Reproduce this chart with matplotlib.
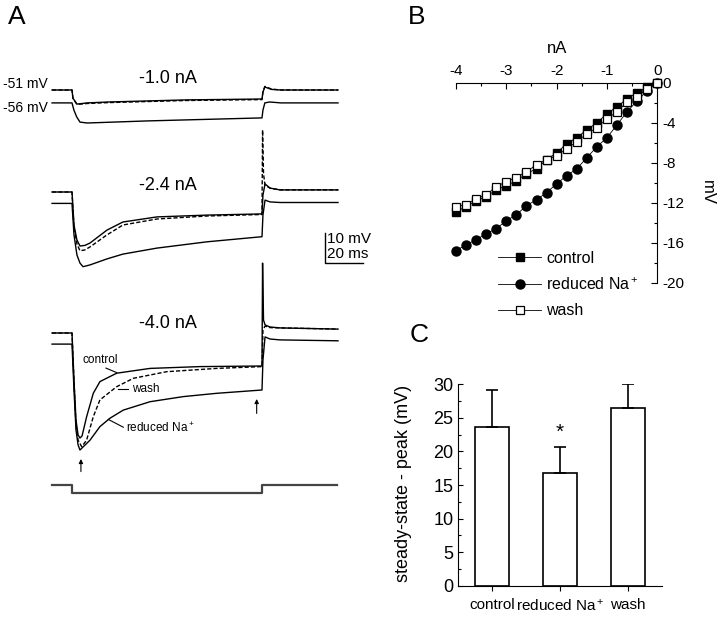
import matplotlib.pyplot as plt
from matplotlib.ticker import MultipleLocator

plt.rcParams['font.family'] = ['Liberation Sans', 'DejaVu Sans']
plt.rcParams['mathtext.fontset'] = 'custom'
plt.rcParams['mathtext.rm'] = 'Liberation Sans'
plt.rcParams['mathtext.it'] = 'Liberation Sans:italic'

# ---- A: voltage responses (time in ms, membrane potential in mV) ----
# -1.0 nA
g1_t = [-10.5, 0, 0.5, 2.6, 8, 19, 60, 100, 100.5, 101.5, 105, 110, 140]
g1_ctrl = [-51, -51, -53.7, -55.7, -55.3, -55.0, -54.3, -54.0, -51.7, -50.0, -50.8, -51, -51]
g1_wash = [-51, -51, -53.8, -55.8, -55.5, -55.2, -54.5, -54.2, -51.5, -49.8, -50.7, -51, -51]
g1_red_t = [-10.5, 0, 1, 2.5, 4.2, 8, 40, 100, 100.5, 101.5, 104, 110, 140]
g1_red = [-55.3, -55.3, -57.7, -60.0, -61.7, -62.0, -61.3, -60.3, -57.7, -55.3, -55.0, -55.3, -55.3]

# -2.4 nA
g2_ctrl_t = [-10.5, 0, 1.05, 2.6, 4.2, 6.8, 9.5, 18.4, 26.8, 44.7, 71.1, 100, 100.5, 101.6, 104.2, 109.5, 140]
g2_ctrl = [-51, -51, -62, -67, -69, -68.8, -68, -63.7, -61, -59.3, -58.7, -58.3, -52, -48.3, -49.7, -50.3, -50.3]
g2_wash_t = [-10.5, 0, 1.05, 2.6, 4.2, 6.8, 9.5, 18.4, 26.8, 44.7, 71.1, 100, 100.3, 100.8, 101.6, 104.2, 109.5, 140]
g2_wash = [-51, -51, -63, -68.3, -70.6, -70.3, -69.3, -65.3, -62, -60, -59, -58.5, -30.3, -45, -48.7, -49.7, -50.3, -50.3]
g2_red_t = [-10.5, 0, 1.05, 2.6, 4.2, 5.8, 9.5, 18.4, 26.8, 44.7, 71.1, 100, 100.5, 101.6, 104.2, 109.5, 140]
g2_red = [-54.8, -54.8, -65.3, -72, -74.7, -75.9, -75.3, -73.3, -71.7, -69.7, -67.6, -65.9, -58.7, -53.7, -54.3, -54.5, -54.5]

# -4.0 nA
g3_ctrl_t = [-10.5, 0, 1.05, 2.1, 3.2, 4.2, 5.3, 7.7, 11.2, 14.7, 23.5, 41.1, 67.4, 100, 100.3, 100.8, 101.6, 104.2, 109.5, 140]
g3_ctrl = [-51, -51, -66.7, -80, -85, -86, -85.3, -78.9, -71.1, -67.2, -64.4, -62.8, -62.2, -62, -27.7, -46.7, -48.3, -49, -49.3, -49.7]
g3_wash_t = [-10.5, 0, 1.05, 2.1, 3.2, 5.1, 7.7, 11.2, 14.7, 23.5, 32.3, 49.8, 76.2, 100, 100.5, 101.6, 104.2, 109.5, 140]
g3_wash = [-51, -51, -67.3, -81.7, -86.7, -88.9, -86.7, -78.9, -73.3, -68.9, -66.1, -63.9, -62.8, -62.2, -50, -48.7, -49.2, -49.3, -49.7]
g3_red_t = [-10.5, 0, 1.05, 2.1, 3.2, 4.2, 9.5, 14.7, 20, 27, 41.1, 58.6, 76.2, 100, 100.5, 101.6, 104.2, 109.5, 140]
g3_red = [-54.7, -54.7, -70, -83.3, -88.3, -90, -86.7, -82.2, -79.4, -76.7, -73.9, -72.2, -71.1, -70, -60, -52.3, -53, -53.3, -53.6]

# current command (normalised step)
cmd_t = [-10.5, 0, 0, 100, 100, 139.5]
cmd_i = [0, 0, -1, -1, 0, 0]

# ---- B: I-V relation ----
current_nA = [-4.0, -3.8, -3.6, -3.4, -3.2, -3.0, -2.8, -2.6, -2.4, -2.2, -2.0,
              -1.8, -1.6, -1.4, -1.2, -1.0, -0.8, -0.6, -0.4, -0.2, 0.0]
iv_control = [-12.9, -12.4, -11.8, -11.4, -10.7, -10.3, -9.8, -9.1, -8.6, -7.7, -7.0,
              -6.1, -5.5, -4.7, -4.0, -3.1, -2.4, -1.6, -1.0, -0.4, 0.0]
iv_reduced = [-16.8, -16.2, -15.7, -15.1, -14.6, -13.8, -13.2, -12.3, -11.7, -11.0, -10.1,
              -9.3, -8.6, -7.5, -6.4, -5.5, -4.2, -2.9, -1.8, -0.8, 0.0]
iv_wash = [-12.4, -12.2, -11.6, -11.2, -10.4, -9.9, -9.5, -8.9, -8.2, -7.7, -7.3,
           -6.6, -5.9, -5.1, -4.5, -3.6, -2.9, -1.9, -1.4, -0.6, 0.0]

# ---- C: sag amplitude ----
conditions = ['control', 'reduced Na$^+$', 'wash']
sag_mean = [23.7, 16.8, 26.4]
sag_err = [5.5, 3.8, 3.6]

fig = plt.figure(figsize=(7.2, 6.18), dpi=100)

# panel A
axa = fig.add_axes([0, 0, 380 / 720, 1])
axa.set_xlim(-72 / 1.9, (380 - 72) / 1.9)
axa.set_ylim(-206, 0)
axa.axis('off')

lw = 1.0
dash = (0, (3, 1.5))
groups = [
    (21, g1_t, g1_ctrl, g1_t, g1_wash, g1_red_t, g1_red),
    (-13, g2_ctrl_t, g2_ctrl, g2_wash_t, g2_wash, g2_red_t, g2_red),
    (-60, g3_ctrl_t, g3_ctrl, g3_wash_t, g3_wash, g3_red_t, g3_red),
]
for off, ct, cv, wt, wv, rt, rv in groups:
    axa.plot(rt, [v + off for v in rv], color='black', lw=lw)
    axa.plot(wt, [v + off for v in wv], color='black', lw=lw, linestyle=dash)
    axa.plot(ct, [v + off for v in cv], color='black', lw=lw)

axa.plot(cmd_t, [-161.7 + 2.6 * i for i in cmd_i], color='#444444', lw=1.6)

tfs = 13
axa.text(50.5, -26, '-1.0 nA', fontsize=tfs, ha='center', va='center')
axa.text(50.5, -61.7, '-2.4 nA', fontsize=tfs, ha='center', va='center')
axa.text(50.5, -107.7, '-4.0 nA', fontsize=tfs, ha='center', va='center')
axa.text(-36.3, -28, '-51 mV', fontsize=10, ha='left', va='center')
axa.text(-36.3, -36, '-56 mV', fontsize=10, ha='left', va='center')

# trace labels
axa.text(14.7, -120, 'control', fontsize=8.5, ha='center', va='center')
axa.plot([17.9, 23.5], [-122.7, -124.2], color='black', lw=0.8)
axa.text(31.4, -129.5, 'wash', fontsize=8.5, ha='left', va='center')
axa.plot([24.4, 29.6], [-129.7, -129.7], color='black', lw=0.8)
axa.text(28.4, -142.7, 'reduced Na$^+$', fontsize=8.5, ha='left', va='center')
axa.plot([19.1, 27.0], [-139.8, -142.4], color='black', lw=0.8)

# arrows
for x, y0, y1 in [(4.7, -157.2, -153.0), (97.2, -137.8, -133.0)]:
    axa.annotate('', xy=(x, y1), xytext=(x, y0),
                 arrowprops=dict(arrowstyle='-|>', color='black', lw=0.8,
                                 mutation_scale=6, shrinkA=0, shrinkB=0))

# scale bar 10 mV / 20 ms
axa.plot([133.2, 133.2, 153.2], [-77.7, -87.7, -87.7], color='black', lw=1.0)
axa.text(134.0, -79.5, '10 mV', fontsize=11, ha='left', va='center')
axa.text(134.0, -84.5, '20 ms', fontsize=11, ha='left', va='center')

# panel B
axb = fig.add_axes([456 / 720, 1 - 282.7 / 618, 201.3 / 720, 200 / 618])
axb.plot(current_nA, iv_reduced, color='black', lw=0.6, marker='o', ms=6.5,
         mfc='black', mec='black', label='reduced Na$^+$', clip_on=False, zorder=3)
axb.plot(current_nA, iv_control, color='black', lw=0.6, marker='s', ms=6,
         mfc='black', mec='black', label='control', clip_on=False, zorder=4)
axb.plot(current_nA, iv_wash, color='black', lw=0.6, marker='s', ms=6,
         mfc='white', mec='black', mew=0.9, label='wash', clip_on=False, zorder=5)
axb.set_xlim(-4, 0)
axb.set_ylim(-20, 0)
axb.spines['left'].set_visible(False)
axb.spines['bottom'].set_visible(False)
axb.xaxis.tick_top()
axb.yaxis.tick_right()
axb.xaxis.set_major_locator(MultipleLocator(1))
axb.xaxis.set_minor_locator(MultipleLocator(0.5))
axb.yaxis.set_major_locator(MultipleLocator(4))
axb.yaxis.set_minor_locator(MultipleLocator(2))
axb.tick_params(which='both', direction='in', labelsize=11, width=0.8)
axb.tick_params(which='major', length=4)
axb.tick_params(which='minor', length=2.5)
axb.xaxis.set_major_formatter(plt.FuncFormatter(lambda v, p: '%d' % v))
axb.yaxis.set_major_formatter(plt.FuncFormatter(lambda v, p: '%d' % v))
axb.xaxis.set_label_position('top')
axb.set_xlabel('nA', fontsize=12, labelpad=8)
axb.yaxis.set_label_position('right')
axb.set_ylabel('mV', fontsize=12, rotation=270, va='center')
axb.yaxis.set_label_coords(1.25, 0.45)
h, l = axb.get_legend_handles_labels()
axb.legend([h[1], h[0], h[2]], [l[1], l[0], l[2]], loc='upper left',
           bbox_to_anchor=(498 / 720, 1 - 251 / 618), bbox_transform=fig.transFigure,
           frameon=False, fontsize=11.5, handlelength=2.7, handletextpad=0.3,
           labelspacing=0.65, borderpad=0, borderaxespad=0)

# panel C
axc = fig.add_axes([458.3 / 720, 1 - 585.7 / 618, 203.4 / 720, 201.4 / 618])
xpos = list(range(len(conditions)))
axc.bar(xpos, sag_mean, width=0.5, color='white', edgecolor='black', lw=1.2,
        yerr=[[0] * len(sag_err), sag_err], capsize=4,
        error_kw=dict(elinewidth=1.2, capthick=1.2, ecolor='black'))
axc.text(1, 22.9, '*', fontsize=15, ha='center', va='center')
axc.set_xlim(-0.5, 2.5)
axc.set_ylim(0, 30)
axc.spines['top'].set_visible(False)
axc.spines['right'].set_visible(False)
axc.set_xticks(xpos)
axc.set_xticklabels(conditions)
axc.yaxis.set_major_locator(MultipleLocator(5))
axc.yaxis.set_minor_locator(MultipleLocator(2.5))
axc.tick_params(axis='y', which='both', direction='in', labelsize=13, width=0.8)
axc.tick_params(axis='y', which='minor', length=2.5)
axc.tick_params(axis='x', direction='out', labelsize=11, pad=5, width=0.8)
axc.set_ylabel('steady-state - peak (mV)', fontsize=13)
axc.yaxis.set_label_coords(-0.229, 0.51)

fig.text(8 / 720, 1 - 17 / 618, 'A', fontsize=19, ha='left', va='center')
fig.text(408 / 720, 1 - 17 / 618, 'B', fontsize=19, ha='left', va='center')
fig.text(410 / 720, 1 - 335 / 618, 'C', fontsize=19, ha='left', va='center')

fig.savefig('out.png', dpi=100)
